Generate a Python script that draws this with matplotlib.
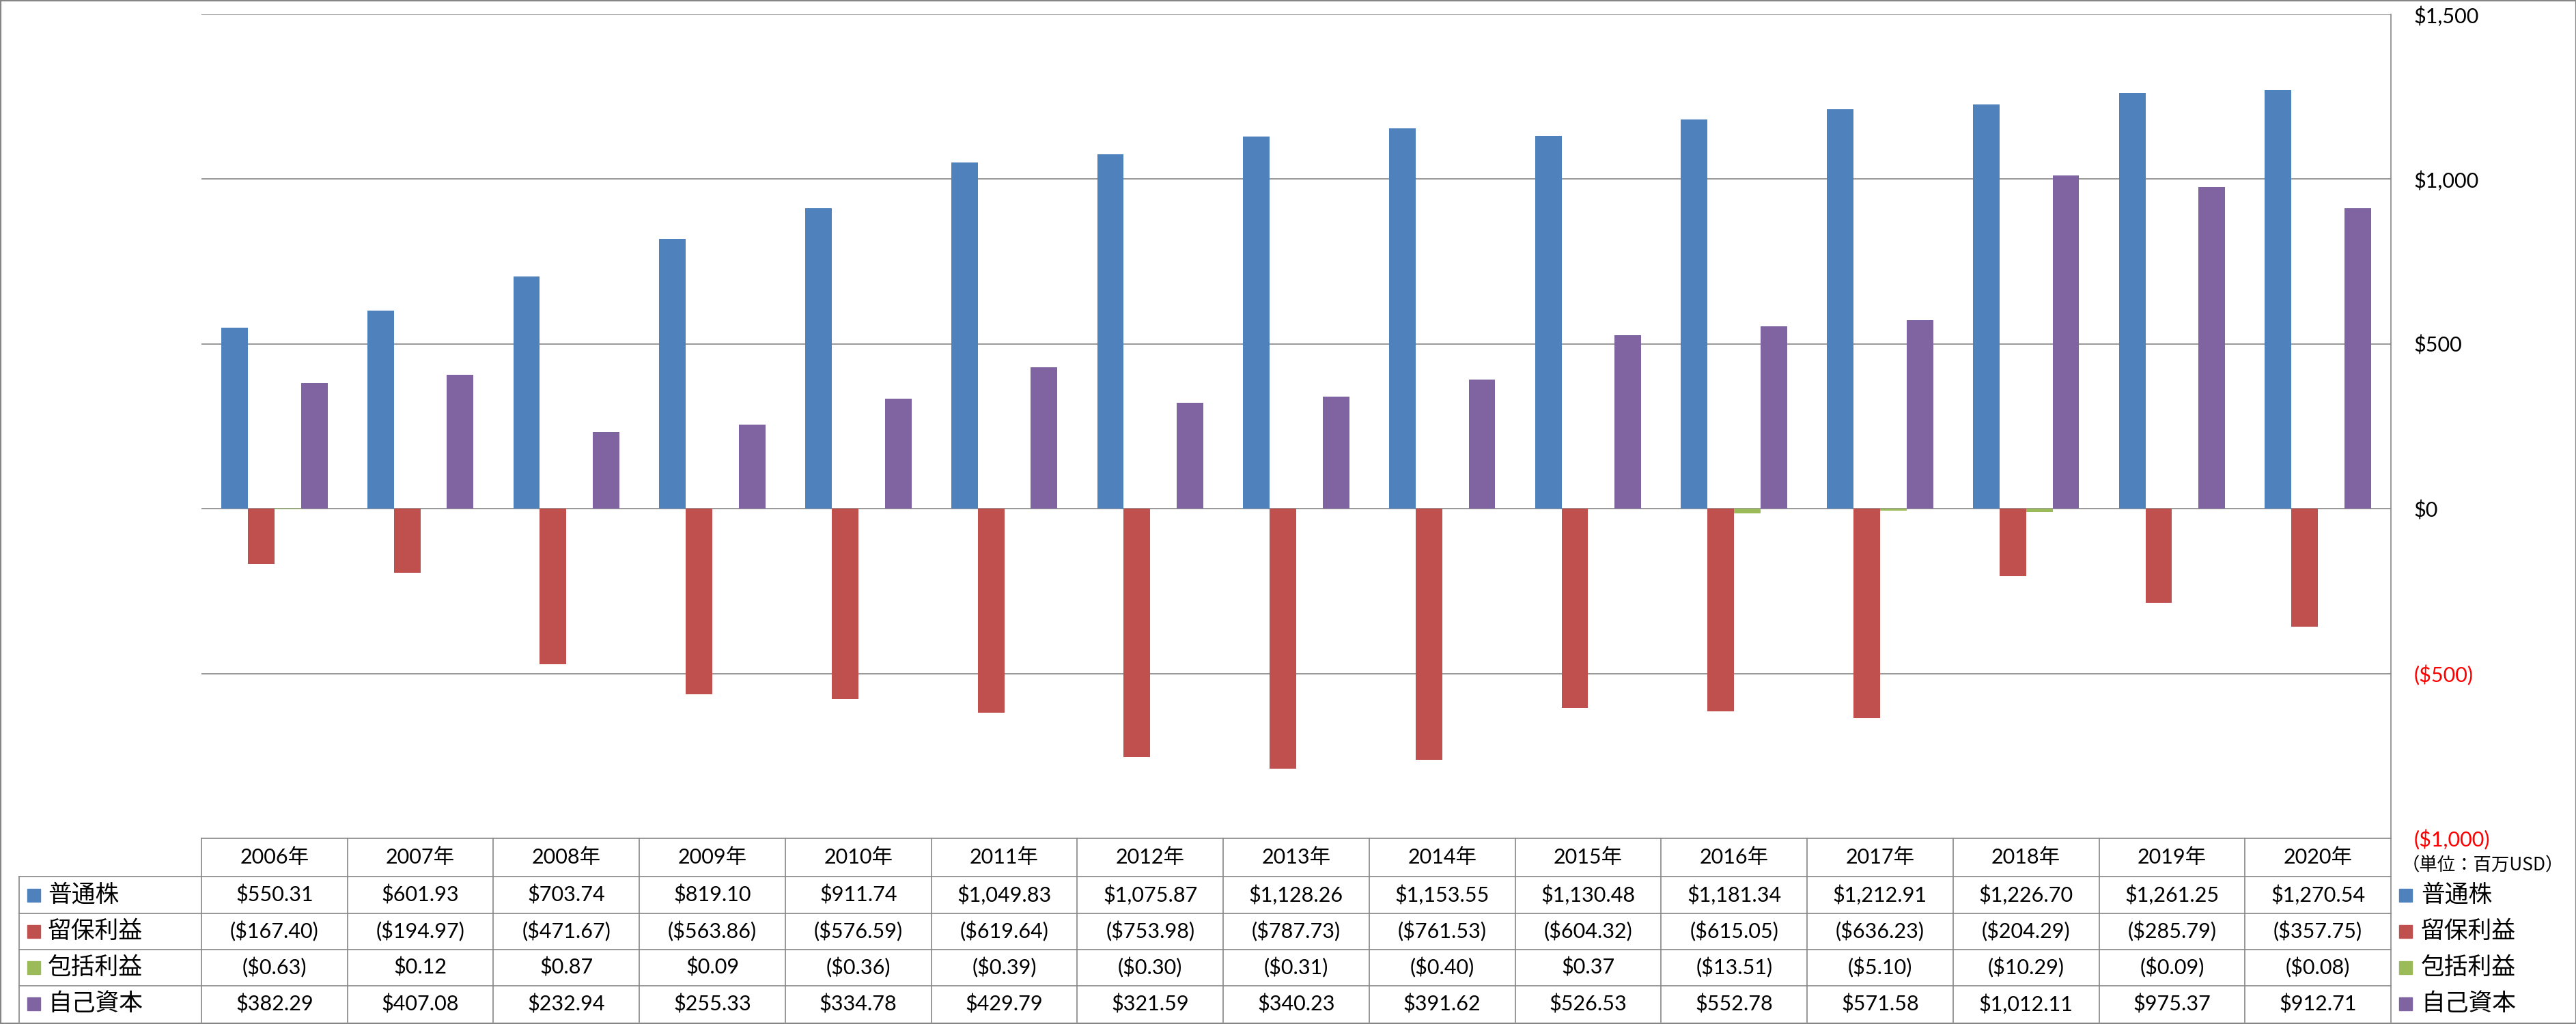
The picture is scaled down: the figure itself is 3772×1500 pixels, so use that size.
import matplotlib
matplotlib.use('Agg')
import matplotlib.pyplot as plt
import numpy as np
from matplotlib.lines import Line2D
from matplotlib.patches import Rectangle
from matplotlib.transforms import blended_transform_factory

# data (millions USD)
years = ["2006年", "2007年", "2008年", "2009年", "2010年", "2011年", "2012年", "2013年",
         "2014年", "2015年", "2016年", "2017年", "2018年", "2019年", "2020年"]
common_stock = [550.31, 601.93, 703.74, 819.10, 911.74, 1049.83, 1075.87, 1128.26,
                1153.55, 1130.48, 1181.34, 1212.91, 1226.70, 1261.25, 1270.54]
retained_earnings = [-167.40, -194.97, -471.67, -563.86, -576.59, -619.64, -753.98, -787.73,
                     -761.53, -604.32, -615.05, -636.23, -204.29, -285.79, -357.75]
comprehensive_income = [-0.63, 0.12, 0.87, 0.09, -0.36, -0.39, -0.30, -0.31,
                        -0.40, 0.37, -13.51, -5.10, -10.29, -0.09, -0.08]
equity = [382.29, 407.08, 232.94, 255.33, 334.78, 429.79, 321.59, 340.23,
          391.62, 526.53, 552.78, 571.58, 1012.11, 975.37, 912.71]

series_names = ["普通株", "留保利益", "包括利益", "自己資本"]
series_values = [common_stock, retained_earnings, comprehensive_income, equity]
colors = ["#4F81BD", "#C0504D", "#9BBB59", "#8064A2"]
y_ticks = [-1000, -500, 0, 500, 1000, 1500]

plt.rcParams['font.family'] = ['Lato', 'Noto Sans CJK JP']
GRAY = "#868686"
JP = ['Noto Sans CJK JP', 'DejaVu Sans']

W, H = 3773, 1500
fig = plt.figure(figsize=(W / 100, H / 100), dpi=100)


def fx(px):
    return px / W


def fy(py):
    return 1 - py / H


# plot area
x0, x1, y0, y1 = 295, 3501, 21, 1228
ax = fig.add_axes([fx(x0), fy(y1), fx(x1) - fx(x0), fy(y0) - fy(y1)])

n = len(years)
gap = 1.5
bw = 1 / (len(series_names) + gap)
idx = np.arange(n)
for k, (name, vals, c) in enumerate(zip(series_names, series_values, colors)):
    ax.bar(idx + 0.5 + (k - 1.5) * bw, vals, width=bw, color=c, label=name, zorder=3)

ax.set_xlim(0, n)
ax.set_ylim(-1000, 1500)
ax.set_xticks([])
for t in y_ticks[1:]:
    ax.axhline(t, color=GRAY, lw=1.2, zorder=2)

def money(v):
    return f"(${-v:,.0f})" if v < 0 else f"${v:,.0f}"

ax.yaxis.tick_right()
ax.set_yticks(y_ticks, [money(t) for t in y_ticks])
ax.tick_params(axis='y', length=0, pad=24, labelsize=22)
for lbl, t in zip(ax.get_yticklabels(), y_ticks):
    lbl.set_horizontalalignment('left')
    if t < 0:
        lbl.set_color('red')
for s in ['left', 'top']:
    ax.spines[s].set_visible(False)
ax.spines['right'].set_color(GRAY)
ax.spines['right'].set_linewidth(1.2)
ax.spines['bottom'].set_color(GRAY)
ax.spines['bottom'].set_linewidth(1.2)

# data table under the plot
tr = blended_transform_factory(ax.transData, fig.transFigure)
rows = [1228, 1284, 1338, 1391, 1444, 1497]
tab_left = 28

for r in rows[1:-1]:
    fig.add_artist(Line2D([fx(tab_left), fx(x1)], [fy(r), fy(r)], color=GRAY, lw=1.2))
fig.add_artist(Line2D([fx(tab_left), fx(tab_left)], [fy(rows[1]), fy(rows[-1])], color=GRAY, lw=1.2))
for i in range(n + 1):
    fig.add_artist(Line2D([i, i], [fy(rows[0]), fy(rows[-1])], color=GRAY, lw=1.2, transform=tr))

def cell_text(v):
    return f"(${-v:,.2f})" if v < 0 else f"${v:,.2f}"

hy = fy((rows[0] + rows[1]) / 2)
for i, yr in enumerate(years):
    fig.text(i + 0.5, hy, yr, transform=tr, ha='center', va='center', fontsize=22)

for k, (name, vals, c) in enumerate(zip(series_names, series_values, colors)):
    cy = fy((rows[k + 1] + rows[k + 2]) / 2)
    for i, v in enumerate(vals):
        fig.text(i + 0.5, cy, cell_text(v), transform=tr, ha='center', va='center', fontsize=22)
    # legend keys on left and right
    for kx, tx in [(40, 70), (3513, 3545)]:
        fig.add_artist(Rectangle((fx(kx), cy - 9.5 / H), 19 / W, 19 / H, color=c,
                                 transform=fig.transFigure))
        fig.text(fx(tx), cy, name, ha='left', va='center', fontsize=25, family=JP)

fig.text(fx(3635), fy(1268), "（単位：百万USD）", ha='center', va='center', fontsize=19, family=JP)

# outer border
fig.add_artist(Rectangle((0, 0), 1, 1, fill=False, edgecolor=GRAY, lw=3, transform=fig.transFigure))

fig.savefig("out.png", dpi=100, facecolor='white')
